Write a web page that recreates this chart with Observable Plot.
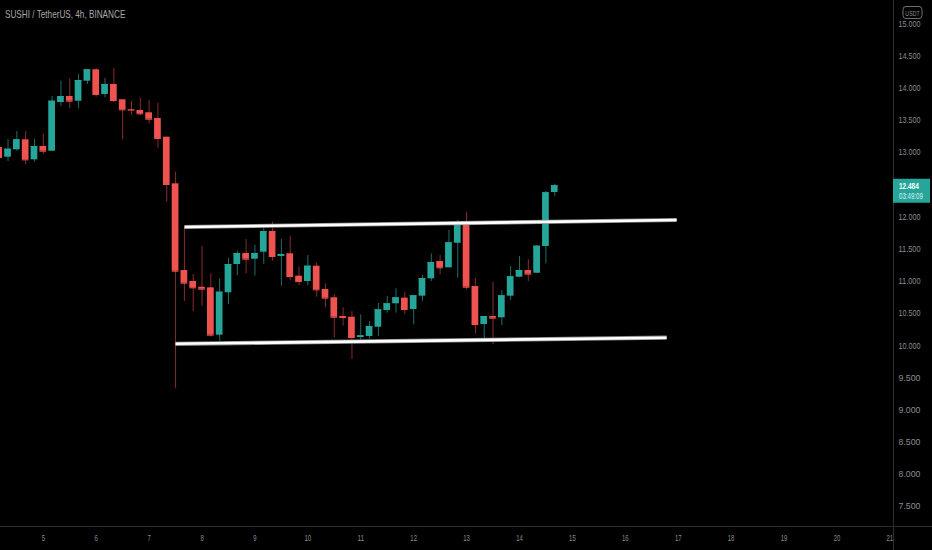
<!DOCTYPE html>
<html><head><meta charset="utf-8">
<script src="https://cdn.jsdelivr.net/npm/d3@7"></script>
<script src="https://cdn.jsdelivr.net/npm/@observablehq/plot@0.6"></script>
<style>html,body{margin:0;padding:0;background:#000;overflow:hidden}#chart{position:relative;width:932px;height:550px}</style>
</head><body><div id="chart"></div>
<script>
// 4h candles, first bar = day 4, 04:00 (x unit = day of month)
const startDay = 4 + 1/6;
const open  = [13.078,12.928,13.043,13.198,12.887,13.094,13.021,13.778,13.871,13.798,14.109,14.286,13.902,14.058,13.820,13.669,13.654,13.618,13.529,13.239,12.514,11.167,10.996,10.907,10.898,10.162,10.821,11.260,11.431,11.343,11.452,11.773,11.385,11.427,11.079,10.996,11.234,10.872,10.743,10.452,10.441,10.126,10.142,10.286,10.546,10.650,10.737,10.561,10.768,11.038,11.307,11.209,11.591,11.877,10.918,10.328,10.452,10.432,10.768,11.063,11.167,11.125,11.540,12.379];
const high  = [13.141,13.203,13.327,13.327,13.198,13.291,13.871,14.109,14.146,14.213,14.286,14.306,14.151,14.306,13.820,13.798,13.845,13.809,13.767,13.239,12.695,11.835,11.105,11.540,11.116,11.038,11.358,11.467,11.649,11.556,11.831,11.918,11.649,11.696,11.218,11.400,11.281,10.960,10.794,10.588,10.530,10.479,10.375,10.659,10.763,10.883,10.830,10.774,11.089,11.427,11.400,11.789,11.944,12.073,11.047,10.452,10.985,10.856,11.229,11.385,11.338,11.556,12.395,12.504];
const low   = [12.877,12.861,13.021,12.810,12.850,12.965,13.021,13.716,13.680,13.680,14.058,13.860,13.851,13.773,13.198,13.576,13.576,13.447,13.068,12.229,9.333,10.685,10.530,10.612,10.131,10.068,10.639,11.089,11.116,11.079,11.260,11.312,10.923,11.012,10.934,10.934,10.752,10.588,10.121,10.302,9.784,10.037,10.090,10.142,10.504,10.504,10.479,10.323,10.690,10.996,11.100,11.209,11.047,10.867,10.183,10.079,10.017,10.312,10.701,11.053,10.996,11.120,11.271,12.317];
const close = [12.923,13.052,13.198,12.887,13.094,13.021,13.798,13.871,13.798,14.120,14.286,13.902,14.058,13.809,13.664,13.660,13.602,13.518,13.218,12.504,11.156,10.970,10.898,10.877,10.162,10.830,11.260,11.431,11.343,11.431,11.773,11.385,11.416,11.074,10.996,11.234,10.867,10.737,10.441,10.436,10.126,10.152,10.297,10.556,10.650,10.743,10.561,10.774,11.043,11.291,11.209,11.598,11.877,10.907,10.328,10.452,10.426,10.774,11.069,11.167,11.110,11.545,12.375,12.484];

// channel trend lines (upper, lower)
const lineX1 = [7.669, 7.499];
const lineY1 = [11.843, 10.028];
const lineX2 = [16.970, 16.781];
const lineY2 = [11.952, 10.123];

const xTicks = [5,6,7,8,9,10,11,12,13,14,15,16,17,18,19,20,21];
const yTicks = [7.5,8,8.5,9,9.5,10,10.5,11,11.5,12,13,13.5,14,14.5,15];

const title = "SUSHI / TetherUS, 4h, BINANCE";
const lastPrice = "12.484";
const countdown = "03:49:09";
const currency = "USDT";

const candles = open.map((o, k) => ({t: startDay + k / 6, open: o, high: high[k], low: low[k], close: close[k], up: close[k] >= o}));
const lines = lineX1.map((x, k) => ({x1: x, y1: lineY1[k], x2: lineX2[k], y2: lineY2[k]}));

const UP = "#26a69a", DOWN = "#ef5350", UPW = "#1d6e66", DOWNW = "#8a2c2b";
const bw = 0.0633;

const plot = Plot.plot({
  width: 932, height: 550,
  marginLeft: 0, marginRight: 39, marginTop: 0, marginBottom: 24,
  style: {background: "#000", color: "#8c8c8c", fontFamily: "Liberation Sans, Arial, sans-serif", fontSize: "9px"},
  x: {domain: [4.191, 21.069], label: null},
  y: {domain: [7.189, 15.363], label: null},
  marks: [
    Plot.axisY({anchor: "right", ticks: yTicks, tickFormat: d3.format(".3f"), tickSize: 0, tickPadding: 5, label: null}),
    Plot.axisX({anchor: "bottom", ticks: xTicks, tickFormat: d => String(d), tickSize: 0, tickPadding: 8, label: null}),
    Plot.ruleX(candles, {x: "t", y1: "low", y2: "high", stroke: d => d.up ? UPW : DOWNW, strokeWidth: 1, clip: true}),
    Plot.rect(candles, {x1: d => d.t - bw, x2: d => d.t + bw, y1: "open", y2: "close", fill: d => d.up ? UP : DOWN, clip: true}),
    Plot.ruleY(candles, {y: "close", x1: d => d.t - bw, x2: d => d.t + bw, stroke: d => d.up ? UP : DOWN, strokeWidth: 1, clip: true}),
    Plot.link(lines, {x1: "x1", y1: "y1", x2: "x2", y2: "y2", stroke: "#8a8a8a", strokeWidth: 4.2}),
    Plot.link(lines, {x1: "x1", y1: "y1", x2: "x2", y2: "y2", stroke: "#ffffff", strokeWidth: 2.6})
  ]
});

const svg = d3.select(plot);
// condense tick labels like the reference
svg.selectAll('[aria-label="y-axis tick label"] text').attr("textLength", 22).attr("lengthAdjust", "spacingAndGlyphs");
svg.selectAll('[aria-label="x-axis tick label"] text').each(function() {
  const n = this.textContent.length;
  d3.select(this).attr("textLength", n * 3.3).attr("lengthAdjust", "spacingAndGlyphs");
});

// frame separators
svg.append("line").attr("x1", 0).attr("x2", 932).attr("y1", 526.5).attr("y2", 526.5).attr("stroke", "#2e2e2e");
svg.append("line").attr("x1", 893.5).attr("x2", 893.5).attr("y1", 0).attr("y2", 550).attr("stroke", "#2e2e2e");

// overlays
const g = svg.append("g").attr("text-anchor", "start");
g.append("rect").attr("x", 903).attr("y", 6.5).attr("width", 19).attr("height", 12).attr("rx", 3).attr("fill", "#000").attr("stroke", "#8c8c8c").attr("stroke-width", 0.8);
g.append("text").attr("transform", "translate(912.5,15.5) scale(0.7,1)").attr("text-anchor", "middle").attr("fill", "#8c8c8c").attr("font-size", 7.5).text(currency);

const ys = plot.scale("y");
const yp = ys.apply(close[close.length - 1]);
g.append("rect").attr("x", 893).attr("y", yp - 6.5).attr("width", 37).attr("height", 24).attr("fill", UP);
g.append("text").attr("transform", `translate(899,${yp + 4}) scale(0.68,1)`).attr("fill", "#fff").attr("font-size", 9.5).attr("font-weight", "bold").text(lastPrice);
g.append("text").attr("transform", `translate(899,${yp + 13.3}) scale(0.68,1)`).attr("fill", "#d8f0ed").attr("font-size", 9).text(countdown);

g.append("text").attr("transform", "translate(5,18.3) scale(0.78,1)").attr("fill", "#a8a8a8").attr("font-size", 10.5).text(title);

document.getElementById("chart").appendChild(plot);
</script>
</body></html>
